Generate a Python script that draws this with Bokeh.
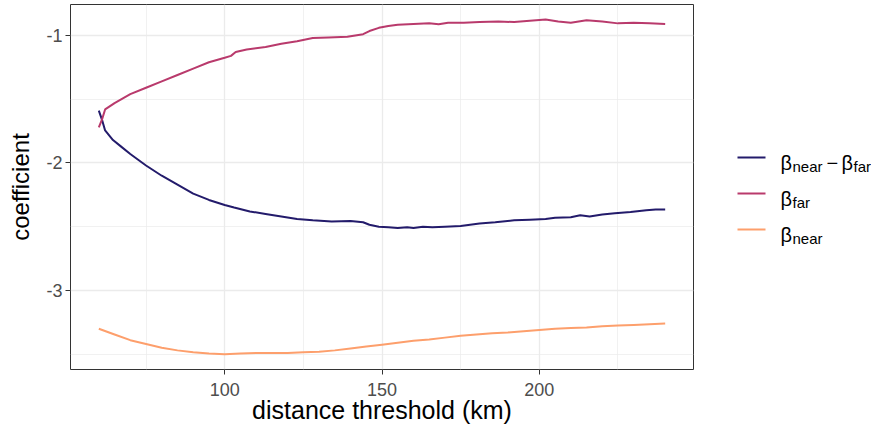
from bokeh.plotting import figure
from bokeh.models import Range1d, FixedTicker
from bokeh.layouts import row
from bokeh.core.properties import value
from bokeh.embed import file_html
from bokeh.resources import INLINE

# ---- data ----
far_x = [60, 61, 62, 65, 70, 75, 80, 85, 90, 95, 100, 102, 103.5, 107, 113, 118, 123, 128, 133, 139,
         144, 146, 149, 152, 155, 160, 165, 168, 171, 176, 181, 187, 192, 197, 202, 206, 210, 215,
         220, 225, 230, 235, 240]
far_y = [-1.72, -1.66, -1.58, -1.53, -1.46, -1.41, -1.36, -1.31, -1.26, -1.21, -1.175, -1.16, -1.13,
         -1.11, -1.09, -1.065, -1.045, -1.02, -1.015, -1.01, -0.99, -0.965, -0.94, -0.925, -0.915,
         -0.91, -0.905, -0.912, -0.9, -0.9, -0.895, -0.89, -0.895, -0.885, -0.875, -0.89, -0.9,
         -0.88, -0.89, -0.905, -0.9, -0.905, -0.91]

diff_x = [60, 61, 62, 64.5, 67, 70, 75, 80, 85, 90, 95, 100, 103, 108, 113, 118, 123, 128, 134, 140,
          144, 146, 149, 152, 155, 158, 160, 163, 166, 170, 175, 181, 186, 192, 197, 202, 205, 210,
          213, 216, 220, 224, 229, 234, 237, 240]
diff_y = [-1.59, -1.66, -1.745, -1.82, -1.87, -1.93, -2.02, -2.10, -2.17, -2.24, -2.29, -2.33, -2.35,
          -2.38, -2.40, -2.42, -2.44, -2.45, -2.46, -2.455, -2.465, -2.485, -2.50, -2.505, -2.51,
          -2.505, -2.51, -2.50, -2.505, -2.50, -2.495, -2.475, -2.465, -2.45, -2.445, -2.44, -2.43,
          -2.425, -2.41, -2.42, -2.405, -2.395, -2.385, -2.37, -2.365, -2.365]

near_x = [60, 65, 70, 75, 80, 85, 90, 95, 100, 105, 110, 115, 120, 125, 130, 135, 140, 145, 150, 155,
          160, 165, 170, 175, 180, 185, 190, 195, 200, 205, 210, 215, 220, 225, 230, 235, 240]
near_y = [-3.30, -3.345, -3.39, -3.42, -3.45, -3.47, -3.485, -3.495, -3.50, -3.495, -3.49, -3.49,
          -3.49, -3.485, -3.48, -3.47, -3.455, -3.44, -3.425, -3.41, -3.395, -3.385, -3.37, -3.355,
          -3.345, -3.335, -3.33, -3.32, -3.31, -3.30, -3.295, -3.29, -3.28, -3.275, -3.27, -3.265,
          -3.26]

x_ticks = [100, 150, 200]
x_minor = [75, 125, 175, 225]
y_ticks = [-3, -2, -1]
y_minor = [-3.5, -2.5, -1.5]
y_tick_labels = ["-3", "-2", "-1"]

legend_main = ["β", "β", "β"]
legend_subs = [["near", "−", "β", "far"], ["far"], ["near"]]

COL_DIFF = "#231B6B"
COL_FAR = "#B93A6C"
COL_NEAR = "#FD9F6C"
FONT = "Liberation Sans"

H = 426
TOP = 4
BOTTOM = 57

# ---- main panel ----
p = figure(width=694, height=H, output_backend="svg", toolbar_location=None,
           x_range=Range1d(51, 249), y_range=Range1d(-3.62, -0.757),
           min_border_left=70, min_border_right=1, min_border_top=TOP, min_border_bottom=BOTTOM)

p.line(diff_x, diff_y, line_color=COL_DIFF, line_width=2)
p.line(far_x, far_y, line_color=COL_FAR, line_width=2)
p.line(near_x, near_y, line_color=COL_NEAR, line_width=2)

p.xaxis.ticker = FixedTicker(ticks=x_ticks, minor_ticks=x_minor)
p.yaxis.ticker = FixedTicker(ticks=y_ticks, minor_ticks=y_minor)
p.yaxis.major_label_overrides = {t: l for t, l in zip(y_ticks, y_tick_labels)}

for ax in (p.xaxis, p.yaxis):
    ax.axis_line_color = None
    ax.major_tick_line_color = "#333333"
    ax.major_tick_line_width = 1
    ax.major_tick_in = 0
    ax.major_tick_out = 5
    ax.minor_tick_line_color = None
    ax.major_label_text_font = FONT
    ax.major_label_text_font_size = "18px"
    ax.major_label_text_color = "#4D4D4D"
    ax.axis_label_text_font = FONT
    ax.axis_label_text_font_style = "normal"
    ax.axis_label_text_color = "#000000"

p.xaxis.axis_label = "distance threshold (km)"
p.yaxis.axis_label = "coefficient"
p.xaxis.axis_label_text_font_size = "25px"
p.yaxis.axis_label_text_font_size = "24px"
p.xaxis.major_label_standoff = 8
p.xaxis.axis_label_standoff = -3
p.yaxis.major_label_standoff = 3
p.yaxis.axis_label_standoff = 9

for g in (p.xgrid, p.ygrid):
    g.grid_line_color = "#EBEBEB"
    g.grid_line_width = 1.3
    g.minor_grid_line_color = "#EBEBEB"
    g.minor_grid_line_width = 0.7

p.outline_line_color = "#333333"
p.outline_line_width = 1
p.background_fill_color = "white"
p.border_fill_color = "white"

# ---- legend panel (pixel-like coordinates) ----
LW = 177
lg = figure(width=LW, height=H, output_backend="svg", toolbar_location=None,
            x_axis_type=None, y_axis_type=None,
            min_border_left=0, min_border_right=0, min_border_top=TOP, min_border_bottom=BOTTOM,
            x_range=Range1d(0, LW), y_range=Range1d(H - BOTTOM, TOP))
lg.grid.visible = False
lg.outline_line_color = None

colors = [COL_DIFF, COL_FAR, COL_NEAR]
for i, c in enumerate(colors):
    yc = 157 + 36 * i
    lg.line([43, 71], [yc, yc], line_color=c, line_width=2)
    base = yc + 5
    lg.text(x=[86], y=[base], text=[legend_main[i]], text_font=value(FONT),
            text_font_size="20px", text_baseline="alphabetic", text_color="black")
    subs = legend_subs[i]
    lg.text(x=[98], y=[base + 4], text=[subs[0]], text_font=value(FONT),
            text_font_size="15px", text_baseline="alphabetic", text_color="black")
    if len(subs) > 1:
        lg.text(x=[132], y=[base], text=[subs[1]], text_font=value(FONT),
                text_font_size="20px", text_baseline="alphabetic", text_color="black")
        lg.text(x=[147], y=[base], text=[subs[2]], text_font=value(FONT),
                text_font_size="20px", text_baseline="alphabetic", text_color="black")
        lg.text(x=[159], y=[base + 4], text=[subs[3]], text_font=value(FONT),
                text_font_size="15px", text_baseline="alphabetic", text_color="black")

layout = row(p, lg)
open("out.html", "w").write(file_html(layout, INLINE))
